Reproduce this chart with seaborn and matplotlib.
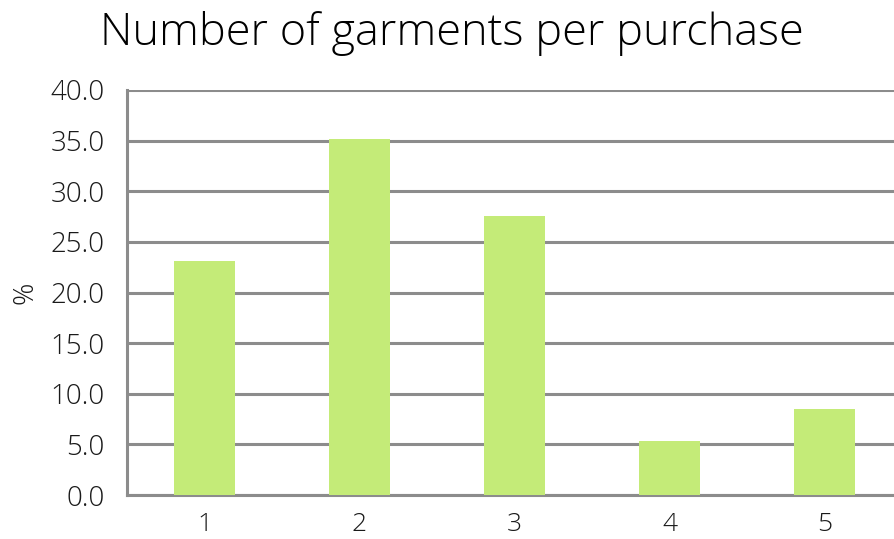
import matplotlib
matplotlib.use("Agg")
import matplotlib.pyplot as plt
import seaborn as sns
import pandas as pd

# Share of purchases by number of garments bought
garments = ["1", "2", "3", "4", "5"]
percent = [23.1, 35.2, 27.6, 5.3, 8.5]
y_ticks = [0, 5, 10, 15, 20, 25, 30, 35, 40]

sns.set_theme(style="white")
plt.rcParams["font.family"] = ["Open Sans", "DejaVu Sans"]
plt.rcParams["font.weight"] = "light"
plt.rcParams["axes.labelweight"] = "light"

df = pd.DataFrame({"garments": garments, "percent": percent})

fig = plt.figure(figsize=(8.95, 5.39), dpi=100)
ax = fig.add_axes([127 / 895, 1 - 495 / 539, 775 / 895, 405 / 539])

sns.barplot(data=df, x="garments", y="percent", color="#c4eb78",
            saturation=1, width=0.39, ax=ax, zorder=3, edgecolor="none",
            linewidth=0)

ax.set_ylim(0, 40)
ax.set_xlim(-0.5, 4.5)
ax.set_yticks(y_ticks)
ax.set_yticklabels([f"{v:.1f}" for v in y_ticks])
ax.yaxis.grid(True, color="#8c8c8c", linewidth=2.2, zorder=0)
ax.set_axisbelow(True)

for side in ["top", "right"]:
    ax.spines[side].set_visible(False)
for side in ["left", "bottom"]:
    ax.spines[side].set_color("#8c8c8c")
    ax.spines[side].set_linewidth(2.2)

ax.tick_params(axis="y", length=0, pad=16, labelsize=20, labelcolor="#1a1a1a")
ax.tick_params(axis="x", length=0, pad=12, labelsize=19, labelcolor="#1a1a1a")

ax.set_xlabel("")
ax.set_ylabel("%", fontsize=20, fontweight="light", color="#1a1a1a", labelpad=8)

fig.text(452 / 895, 1 - 34 / 539, "Number of garments per purchase",
         ha="center", va="center", fontsize=32.5, color="#000000")

fig.savefig("out.png", dpi=100)
